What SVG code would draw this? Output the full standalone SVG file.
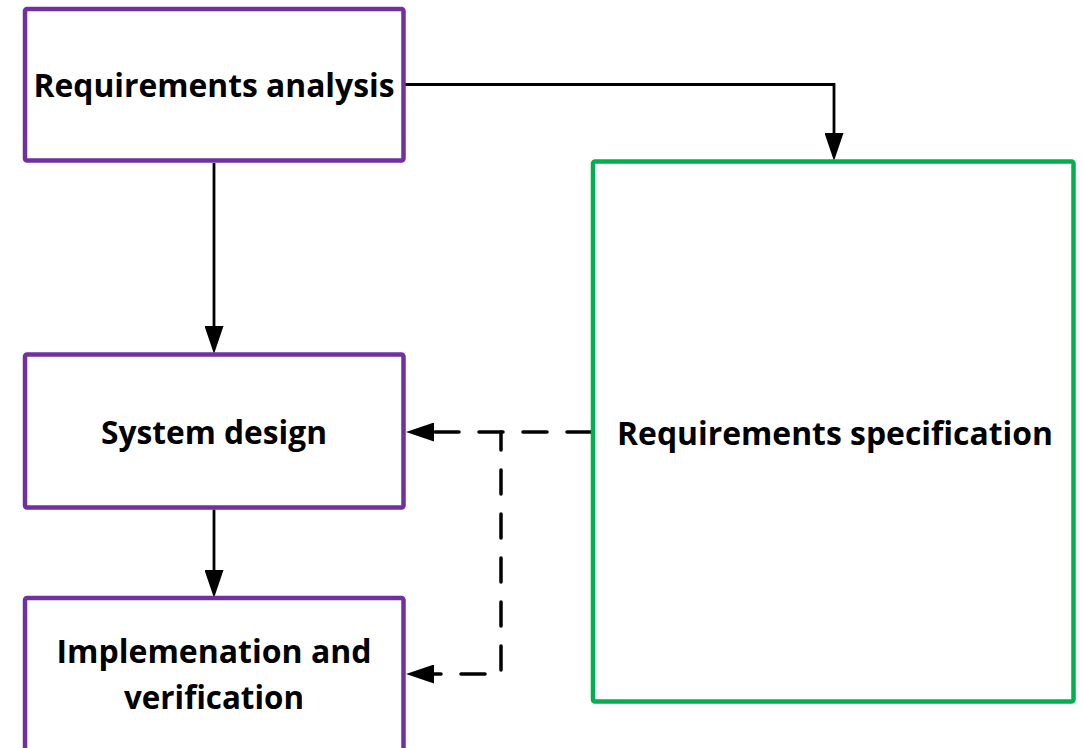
<svg xmlns="http://www.w3.org/2000/svg" width="1084" height="748" viewBox="0 0 1084 748">
  <style>
    .box { fill: #ffffff; stroke-width: 4.5; }
    .purple { stroke: #7030A0; }
    .green { stroke: #00B050; }
    .lbl { font-family: "Open Sans", "Liberation Sans", sans-serif; font-weight: bold; font-size: 33px; fill: #000000; text-anchor: middle; }
    .solid { fill: none; stroke: #000000; stroke-width: 2.8; }
    .dash { fill: none; stroke: #000000; stroke-width: 3.5; stroke-dasharray: 24 20; stroke-linecap: round; }
  </style>
  <defs>
    <marker id="arrow" markerUnits="userSpaceOnUse" markerWidth="28" markerHeight="19" refX="0" refY="9.5" orient="auto" viewBox="0 0 28 19">
      <path d="M0,0 L28,9.5 L0,19 Z" fill="#000000"/>
    </marker>
  </defs>
  <rect x="0" y="0" width="1084" height="748" fill="#ffffff"/>
  <g id="connectors">
    <path class="solid" d="M405,84.5 H834 V133" marker-end="url(#arrow)"/>
    <path class="solid" d="M214,163 V326" marker-end="url(#arrow)"/>
    <path class="solid" d="M214,509.5 V570" marker-end="url(#arrow)"/>
    <path class="dash" d="M591,432 H434" marker-end="url(#arrow)"/>
    <path class="dash" style="stroke-dashoffset:6" d="M501,432 V674 H434" marker-end="url(#arrow)"/>
  </g>
  <g id="requirements-analysis">
    <rect class="box purple" x="25" y="9" width="378.5" height="151.5" rx="2"/>
    <text class="lbl" x="214" y="97" textLength="361" lengthAdjust="spacingAndGlyphs">Requirements analysis</text>
  </g>
  <g id="system-design">
    <rect class="box purple" x="25" y="354.5" width="378.5" height="153" rx="2"/>
    <text class="lbl" x="214" y="444" textLength="226" lengthAdjust="spacingAndGlyphs">System design</text>
  </g>
  <g id="implementation">
    <rect class="box purple" x="25" y="598" width="378.5" height="170" rx="2"/>
    <text class="lbl" x="214" y="663" textLength="315" lengthAdjust="spacingAndGlyphs">Implemenation and</text>
    <text class="lbl" x="214" y="709" textLength="180" lengthAdjust="spacingAndGlyphs">verification</text>
  </g>
  <g id="requirements-specification">
    <rect class="box green" x="593" y="161.5" width="480.5" height="540" rx="2"/>
    <text class="lbl" x="835" y="445" textLength="436" lengthAdjust="spacingAndGlyphs">Requirements specification</text>
  </g>
</svg>
